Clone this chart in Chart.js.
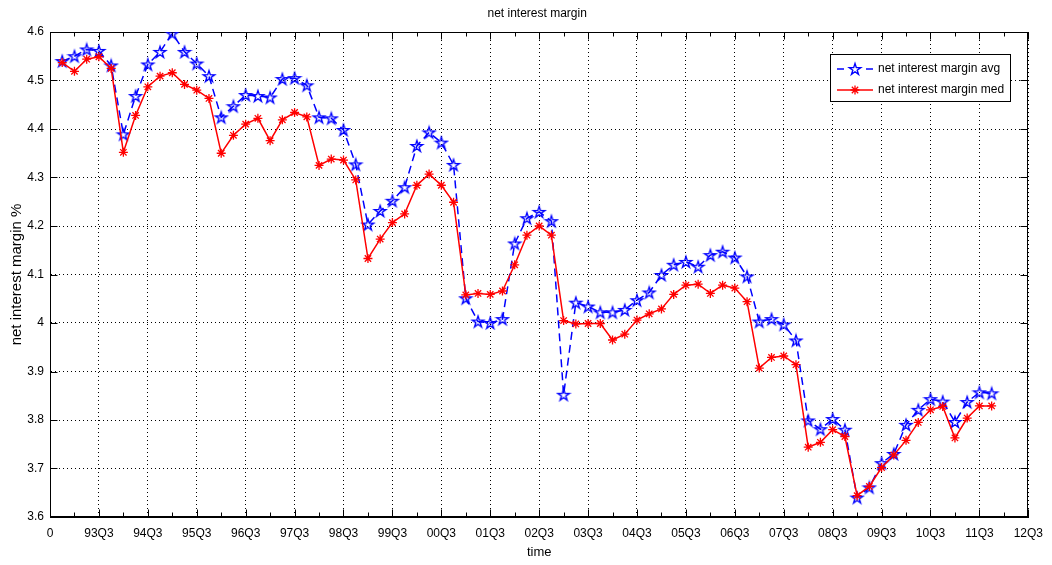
<!DOCTYPE html>
<html lang="en">
<head>
<meta charset="UTF-8">
<title>net interest margin</title>
<script src="https://cdn.jsdelivr.net/npm/chart.js"></script>
<style>
  html, body { margin: 0; padding: 0; background: #fff; }
  #wrap { width: 1052px; height: 565px; }
</style>
</head>
<body>
<div id="wrap"><canvas id="nim" width="1052" height="565"></canvas></div>
<script>
  // quarterly series, first point is quarter 1 on the x axis
  const nimAvg = [4.540, 4.550, 4.564, 4.561, 4.531, 4.389, 4.468, 4.533, 4.559, 4.597,
                  4.559, 4.535, 4.509, 4.424, 4.447, 4.470, 4.468, 4.465, 4.503, 4.505,
                  4.490, 4.424, 4.422, 4.398, 4.327, 4.203, 4.231, 4.252, 4.280, 4.365,
                  4.393, 4.372, 4.326, 4.051, 4.003, 4.000, 4.008, 4.164, 4.216, 4.229,
                  4.210, 3.852, 4.042, 4.034, 4.022, 4.022, 4.027, 4.047, 4.063, 4.099,
                  4.120, 4.126, 4.116, 4.140, 4.147, 4.135, 4.096, 4.003, 4.008, 3.997,
                  3.964, 3.799, 3.781, 3.802, 3.780, 3.640, 3.661, 3.711, 3.730, 3.790,
                  3.821, 3.843, 3.838, 3.796, 3.837, 3.857, 3.855];
  const nimMed = [4.537, 4.519, 4.544, 4.549, 4.525, 4.352, 4.428, 4.487, 4.509, 4.516,
                  4.492, 4.480, 4.463, 4.350, 4.387, 4.410, 4.422, 4.376, 4.419, 4.434,
                  4.425, 4.325, 4.338, 4.336, 4.295, 4.133, 4.173, 4.207, 4.225, 4.284,
                  4.307, 4.284, 4.249, 4.058, 4.061, 4.059, 4.066, 4.120, 4.181, 4.200,
                  4.181, 4.005, 3.998, 3.999, 3.999, 3.965, 3.977, 4.006, 4.019, 4.029,
                  4.059, 4.078, 4.080, 4.061, 4.078, 4.072, 4.044, 3.907, 3.929, 3.932,
                  3.914, 3.744, 3.754, 3.780, 3.766, 3.644, 3.663, 3.702, 3.728, 3.758,
                  3.795, 3.821, 3.828, 3.763, 3.804, 3.829, 3.829];
  const xTickLabels = ['0', '93Q3', '94Q3', '95Q3', '96Q3', '97Q3', '98Q3', '99Q3', '00Q3', '01Q3', '02Q3',
                       '03Q3', '04Q3', '05Q3', '06Q3', '07Q3', '08Q3', '09Q3', '10Q3', '11Q3', '12Q3'];
  const seriesNames = ['net interest margin avg', 'net interest margin med'];

  const toPoints = arr => arr.map((v, i) => ({ x: i + 1, y: v }));

  // hollow five point star used as the avg marker
  function pentagram(color, r) {
    const size = Math.ceil(r * 2 + 4);
    const c = document.createElement('canvas');
    c.width = c.height = size;
    const g = c.getContext('2d');
    const cx = size / 2, cy = size / 2 + 0.5, ri = r * 0.382;
    g.beginPath();
    for (let k = 0; k < 10; k++) {
      const rad = k % 2 ? ri : r;
      const a = -Math.PI / 2 + k * Math.PI / 5;
      const px = cx + rad * Math.cos(a), py = cy + rad * Math.sin(a);
      if (k) g.lineTo(px, py); else g.moveTo(px, py);
    }
    g.closePath();
    g.strokeStyle = color;
    g.lineWidth = 1.4;
    g.stroke();
    return c;
  }
  const starMark = pentagram('#0000ff', 6);

  function asterisk(ctx, x, y, r, color) {
    ctx.save();
    ctx.strokeStyle = color;
    ctx.lineWidth = 1.3;
    ctx.beginPath();
    for (let k = 0; k < 4; k++) {
      const a = k * Math.PI / 4;
      ctx.moveTo(x - r * Math.cos(a), y - r * Math.sin(a));
      ctx.lineTo(x + r * Math.cos(a), y + r * Math.sin(a));
    }
    ctx.stroke();
    ctx.restore();
  }

  // title, closed box and inward tick marks
  const frame = {
    id: 'frame',
    beforeDatasetsDraw(chart) {
      const { ctx, chartArea: a, scales: { x, y } } = chart;
      const L = Math.round(a.left) + 0.5, R = Math.round(a.right) - 0.5;
      const T = Math.round(a.top) + 0.5, B = Math.round(a.bottom) - 0.5;
      ctx.save();
      ctx.strokeStyle = '#000';
      ctx.lineWidth = 1;
      ctx.beginPath();
      for (let v = 0; v <= 80; v += 2) {
        const px = Math.round(x.getPixelForValue(v)) + 0.5;
        const len = v % 4 ? 4 : 7;
        ctx.moveTo(px, B); ctx.lineTo(px, B - len);
        ctx.moveTo(px, T); ctx.lineTo(px, T + len);
      }
      y.ticks.forEach(t => {
        const py = Math.round(y.getPixelForValue(t.value)) + 0.5;
        ctx.moveTo(L, py); ctx.lineTo(L + 7, py);
        ctx.moveTo(R, py); ctx.lineTo(R - 7, py);
      });
      ctx.stroke();
      ctx.strokeRect(L, T, R - L, B - T);
      ctx.restore();
    },
    afterDraw(chart) {
      const { ctx, chartArea: a } = chart;
      ctx.save();
      ctx.fillStyle = '#000';
      ctx.font = '12px "Liberation Sans", Arial, sans-serif';
      ctx.textAlign = 'center';
      ctx.textBaseline = 'middle';
      ctx.fillText('net interest margin', (a.left + a.right) / 2 - 2, 14);

      // legend box
      const bx = 830.5, by = 54.5, bw = 180, bh = 47;
      ctx.fillStyle = '#fff';
      ctx.fillRect(bx, by, bw, bh);
      ctx.strokeStyle = '#000';
      ctx.lineWidth = 1;
      ctx.strokeRect(bx, by, bw, bh);
      const rows = [69, 90];
      chart.data.datasets.forEach((ds, i) => {
        const ry = rows[i];
        ctx.save();
        ctx.strokeStyle = ds.borderColor;
        ctx.lineWidth = ds.borderWidth;
        ctx.setLineDash(ds.borderDash && ds.borderDash.length ? [7, 22] : []);
        ctx.beginPath();
        ctx.moveTo(837, ry); ctx.lineTo(873, ry);
        ctx.stroke();
        ctx.restore();
        if (ds.pointStyle === 'star') asterisk(ctx, 855, ry, ds.pointRadius, ds.pointBorderColor);
        else ctx.drawImage(ds.pointStyle, 855 - ds.pointStyle.width / 2, ry - ds.pointStyle.height / 2);
        ctx.fillStyle = '#000';
        ctx.textAlign = 'left';
        ctx.fillText(ds.label, 878, ry);
      });
      ctx.restore();
    }
  };

  Chart.defaults.font.family = '"Liberation Sans", Arial, sans-serif';
  Chart.defaults.font.size = 12;
  Chart.defaults.color = '#000';

  new Chart(document.getElementById('nim'), {
    type: 'line',
    data: {
      datasets: [
        {
          label: seriesNames[0],
          data: toPoints(nimAvg),
          borderColor: '#0000ff',
          borderWidth: 1.5,
          borderDash: [8, 5],
          pointStyle: starMark,
          pointRadius: 6,
          tension: 0,
          order: 1
        },
        {
          label: seriesNames[1],
          data: toPoints(nimMed),
          borderColor: '#ff0000',
          borderWidth: 1.5,
          pointStyle: 'star',
          pointRadius: 4.5,
          pointBorderWidth: 1.3,
          pointBorderColor: '#ff0000',
          pointBackgroundColor: '#ff0000',
          tension: 0,
          order: 0
        }
      ]
    },
    options: {
      responsive: false,
      animation: false,
      devicePixelRatio: 1,
      layout: { padding: { top: 32, right: 22, left: 0, bottom: 0 } },
      plugins: { legend: { display: false }, tooltip: { enabled: false } },
      scales: {
        x: {
          type: 'linear',
          min: 0,
          max: 80,
          afterFit: s => { s.height = 48; },
          ticks: {
            stepSize: 4,
            autoSkip: false,
            maxRotation: 0,
            padding: 9,
            callback: v => xTickLabels[Math.round(v / 4)]
          },
          grid: { color: '#000', lineWidth: 1, drawTicks: false },
          border: { display: true, color: '#000', width: 1, dash: [1, 3] },
          title: { display: true, text: 'time', font: { size: 13 }, padding: { top: 0, bottom: 5 } }
        },
        y: {
          min: 3.6,
          max: 4.6,
          afterFit: s => { s.width = 50; },
          ticks: {
            stepSize: 0.1,
            padding: 6,
            callback: v => String(+v.toFixed(1))
          },
          grid: { color: '#000', lineWidth: 1, drawTicks: false },
          border: { display: true, color: '#000', width: 1, dash: [1, 3] },
          title: { display: true, text: 'net interest margin %', font: { size: 15 }, padding: { top: 8, bottom: 0 } }
        }
      }
    },
    plugins: [frame]
  });
</script>
</body>
</html>
